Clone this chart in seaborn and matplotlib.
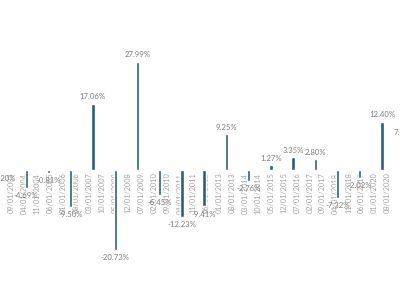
import matplotlib
matplotlib.use("Agg")
import matplotlib.pyplot as plt
from matplotlib.ticker import FixedLocator, FixedFormatter, NullLocator
import seaborn as sns
import pandas as pd
import numpy as np

# Data
bar_dates = ["2003-05-01", "2004-05-01", "2005-05-01", "2006-05-01", "2007-05-01",
             "2008-05-01", "2009-05-01", "2010-05-01", "2011-05-01", "2012-05-01",
             "2013-05-01", "2014-05-01", "2015-05-01", "2016-05-01", "2017-05-01",
             "2018-05-01", "2019-05-01", "2020-05-01", "2021-05-01"]
values = [-0.20, -4.69, -0.81, -9.50, 17.06, -20.73, 27.99, -6.45, -12.23, -9.41,
          9.25, -2.76, 1.27, 3.35, 2.80, -7.32, -2.02, 12.40, 7.75]
tick_labels = ["02/01/2003", "09/01/2003", "04/01/2004", "11/01/2004", "06/01/2005",
               "01/01/2006", "08/01/2006", "03/01/2007", "10/01/2007", "05/01/2008",
               "12/01/2008", "07/01/2009", "02/01/2010", "09/01/2010", "04/01/2011",
               "11/01/2011", "06/01/2012", "01/01/2013", "08/01/2013", "03/01/2014",
               "10/01/2014", "05/01/2015", "12/01/2015", "07/01/2016", "02/01/2017",
               "09/01/2017", "04/01/2018", "11/01/2018", "06/01/2019", "01/01/2020",
               "08/01/2020", "03/01/2021"]

sns.set_style("white")
plt.rcParams["font.family"] = ["Lato", "DejaVu Sans"]


def month_index(ts):
    ts = pd.to_datetime(ts)
    return np.asarray((ts.year - 2003) * 12 + (ts.month - 1) + (ts.day - 1) / 30.0, dtype=float)


df = pd.DataFrame({"month": month_index(bar_dates), "value": values})
tick_pos = month_index(pd.to_datetime(tick_labels, format="%m/%d/%Y"))

fig = plt.figure(figsize=(4, 3), dpi=100)
ax = fig.add_axes([0, 0, 1, 1])
ax.set_axisbelow(True)
sns.barplot(data=df, x="month", y="value", native_scale=True, width=0.15,
            color="#2a5d7e", saturation=1, ax=ax)

for m, v in zip(df["month"], df["value"]):
    off = 5 if v >= 0 else -5.5
    ax.annotate(f"{v:.2f}%", (m, v), xytext=(0, off), textcoords="offset points",
                ha="center", va="center", fontsize=5.6, color="#7f7f7f", zorder=3,
                annotation_clip=False)

ax.spines["bottom"].set_position(("data", 0))
for s in ax.spines.values():
    s.set_visible(False)
ax.xaxis.set_major_locator(FixedLocator(tick_pos))
ax.xaxis.set_major_formatter(FixedFormatter(tick_labels))
ax.xaxis.set_minor_locator(NullLocator())
ax.tick_params(axis="x", length=0, pad=2, labelrotation=90, labelsize=5.3,
               labelcolor="#a6a6a6")
ax.set_yticks([])
ax.set_xlabel("")
ax.set_ylabel("")

ax.set_xlim(1.85, 217.7)
ax.set_ylim(-33.6, 43.9)

fig.savefig("out.png", dpi=100)
